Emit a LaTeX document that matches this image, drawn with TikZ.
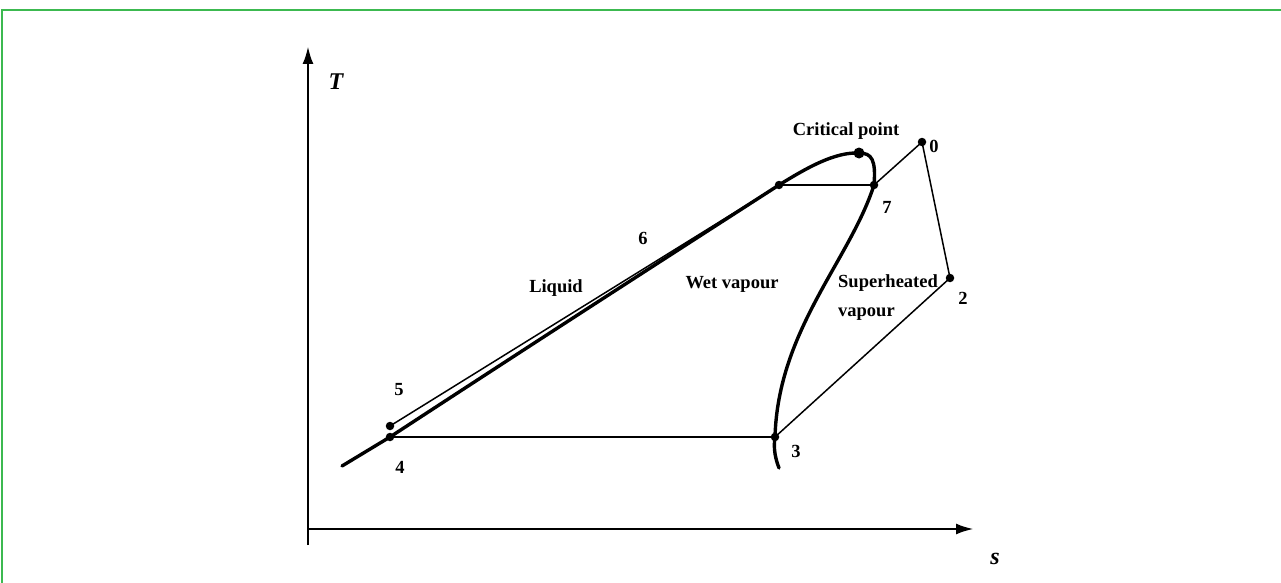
\documentclass[tikz,border=0pt]{standalone}
\usepackage{fontspec}
\setmainfont{Liberation Serif}
\usetikzlibrary{arrows.meta}
\begin{document}
\begin{tikzpicture}[x=1pt,y=-1pt,
  lbl/.style={font=\fontsize{18.5}{21}\selectfont\bfseries, inner sep=0pt},
  axlbl/.style={font=\fontsize{24}{26}\selectfont\bfseries\itshape, inner sep=0pt},
  dotpt/.style={circle, fill=black, inner sep=0pt, minimum size=8.5pt},
  bigdot/.style={circle, fill=black, inner sep=0pt, minimum size=11pt},
  thinln/.style={line width=1.5pt},
  thickln/.style={line width=3.4pt, line join=round, line cap=round},
  axisln/.style={line width=2.8pt, -{Latex[length=18pt,width=11pt]}}]
\useasboundingbox (0,0) rectangle (1281,583);
\fill[white] (0,0) rectangle (1281,583);
\definecolor{frame}{RGB}{60,185,80}
\draw[frame, line width=2pt] (1.5,583) -- (1.5,10) -- (1281,10);

% axes
\coordinate (O) at (308,529);
\coordinate (Ttip) at (308,46);
\coordinate (stip) at (974,529);
\draw[axisln] (308,545) -- (Ttip);
\draw[axisln] (O) -- (stip);
\node[axlbl] (Tlab) at (336,82) {T};
\node[axlbl] (slab) at (995,559) {s};

% state points
\node[dotpt] (p4) at (390,437) {};
\node[dotpt] (p5) at (390,426) {};
\node[dotpt] (p3) at (775,437) {};
\node[dotpt] (p6) at (779,185) {};
\node[dotpt] (p7) at (874,185) {};
\node[dotpt] (p0) at (922,142) {};
\node[dotpt] (p2) at (950,278) {};
\node[bigdot] (cp) at (859,153) {};
\coordinate (lowend) at (342,466);

% saturation dome
\draw[thickln] (lowend) -- (p4.center) .. controls (520,352) and (650,268) .. (p6.center)
  .. controls (808,167) and (835,152) .. (cp.center)
  .. controls (872,153) and (876,160) .. (p7.center)
  .. controls (850,260) and (778,330) .. (p3.center)
  .. controls (773,450) and (776,460) .. (779,468);

% cycle lines
\draw[thinln] (p4.center) -- (p3.center);
\draw[thinln] (p5.center) -- (p6.center);
\draw[thinln] (p6.center) -- (p7.center);
\draw[thinln] (p7.center) -- (p0.center);
\draw[thinln] (p0.center) -- (p2.center);
\draw[thinln] (p2.center) -- (p3.center);

% labels
\node[lbl] (l0) at (934,146) {0};
\node[lbl] (l2) at (963,298) {2};
\node[lbl] (l3) at (796,451) {3};
\node[lbl] (l4) at (400,467) {4};
\node[lbl] (l5) at (399,390) {5};
\node[lbl] (l6) at (643,238) {6};
\node[lbl] (l7) at (887,207) {7};
\node[lbl] (crit) at (846,131) {Critical point};
\node[lbl] (liq) at (556,288) {Liquid};
\node[lbl] (wet) at (732,284) {Wet vapour};
\node[lbl, anchor=west] (sup) at (838,283) {Superheated};
\node[lbl, anchor=west] (vap) at (838,314) {vapour};
\end{tikzpicture}
\end{document}
